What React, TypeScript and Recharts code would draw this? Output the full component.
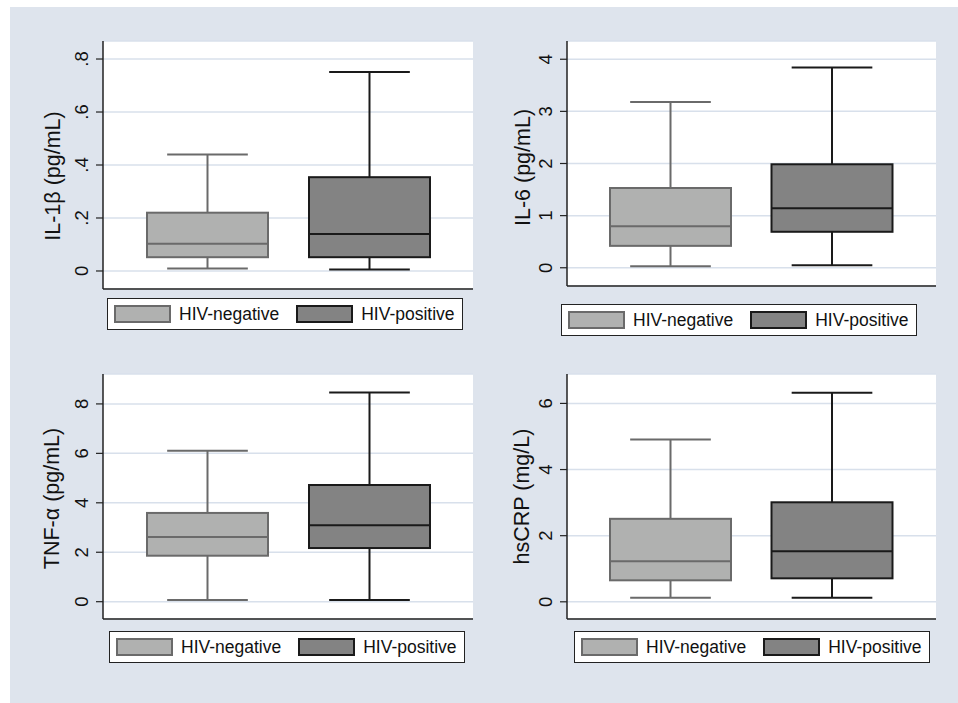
import React from "react";
import { ComposedChart, Bar, XAxis, YAxis, CartesianGrid, Legend } from "recharts";

// groups and box statistics: [lower whisker, q1, median, q3, upper whisker]
const groups = ["HIV-negative", "HIV-positive"];

const il1bNeg = [0.009, 0.052, 0.103, 0.22, 0.44];
const il1bPos = [0.006, 0.052, 0.14, 0.354, 0.751];
const il6Neg = [0.03, 0.42, 0.795, 1.53, 3.18];
const il6Pos = [0.05, 0.69, 1.14, 1.985, 3.84];
const tnfNeg = [0.07, 1.86, 2.62, 3.59, 6.11];
const tnfPos = [0.07, 2.17, 3.09, 4.72, 8.46];
const crpNeg = [0.12, 0.65, 1.23, 2.51, 4.91];
const crpPos = [0.12, 0.71, 1.53, 3.01, 6.32];

const il1bTicks = [0, 0.2, 0.4, 0.6, 0.8];
const il6Ticks = [0, 1, 2, 3, 4];
const tnfTicks = [0, 2, 4, 6, 8];
const crpTicks = [0, 2, 4, 6];

const FONT = '"Liberation Sans", Arial, Helvetica, sans-serif';
const FILLS = ["#b0b1b0", "#838383"];
const STROKES = ["#6a6a6a", "#1a1a1a"];

const fmtTick = (v: number) => {
  if (v === 0) return "0";
  if (v < 1) return String(v).replace(/^0/, "");
  return String(v);
};

const BoxShape = (props: any) => {
  const { x, y, width, height, payload } = props;
  const [lo, q1, med, q3, hi] = payload.stats;
  const k = height / (q3 - q1);
  const py = (v: number) => y + height - (v - q1) * k;
  const cx = x + width / 2;
  const cap = width / 3;
  const s = STROKES[payload.idx];
  return (
    <g>
      <line x1={cx} x2={cx} y1={py(hi)} y2={y} stroke={s} strokeWidth={2} />
      <line x1={cx} x2={cx} y1={y + height} y2={py(lo)} stroke={s} strokeWidth={2} />
      <line x1={cx - cap} x2={cx + cap} y1={py(hi)} y2={py(hi)} stroke={s} strokeWidth={2} />
      <line x1={cx - cap} x2={cx + cap} y1={py(lo)} y2={py(lo)} stroke={s} strokeWidth={2} />
      <rect x={x} y={y} width={width} height={height} fill={FILLS[payload.idx]} stroke={s} strokeWidth={2} />
      <line x1={x} x2={x + width} y1={py(med)} y2={py(med)} stroke={s} strokeWidth={2} />
    </g>
  );
};

const RotTick = (props: any) => {
  const { x, y, payload } = props;
  return (
    <text
      transform={`translate(${x - 1},${y}) rotate(-90)`}
      textAnchor="middle"
      fontSize={18.5}
      fontFamily={FONT}
      fill="#111"
    >
      {fmtTick(payload.value)}
    </text>
  );
};

const BoxLegend = () => (
  <div
    style={{
      width: 356,
      height: 32,
      boxSizing: "border-box",
      border: "1.5px solid #222",
      background: "#fff",
      display: "flex",
      alignItems: "center",
      paddingLeft: 6,
      fontFamily: FONT,
      fontSize: 17.5,
      color: "#111",
      whiteSpace: "nowrap",
    }}
  >
    {groups.map((g, i) => (
      <div key={g} style={{ display: "flex", alignItems: "center", marginRight: 17, flexShrink: 0 }}>
        <div
          style={{
            width: 57,
            height: 18,
            boxSizing: "border-box",
            background: FILLS[i],
            border: `2px solid ${STROKES[i]}`,
            marginRight: 8,
            flexShrink: 0,
          }}
        />
        <span>{g}</span>
      </div>
    ))}
  </div>
);

type PanelProps = {
  neg: number[];
  pos: number[];
  ticks: number[];
  domain: [number, number];
  label: string;
  left: number;
  top: number;
  width: number;
  height: number;
  margin: { top: number; right: number; bottom: number; left: number };
  legendPos: { left: number; top: number };
  labelX: number;
  labelShift: number;
};

const Panel = (p: PanelProps) => {
  const data = groups.map((g, i) => {
    const st = i === 0 ? p.neg : p.pos;
    return { group: g, idx: i, stats: st, box: [st[1], st[3]] };
  });
  return (
    <div style={{ position: "absolute", left: p.left, top: p.top }}>
      <ComposedChart width={p.width} height={p.height} data={data} margin={p.margin}>
        <CartesianGrid vertical={false} stroke="#d8e0eb" strokeWidth={1.5} fill="#fff" />
        <XAxis
          dataKey="group"
          type="category"
          height={1}
          tick={false}
          tickLine={false}
          padding={{ left: 23, right: 23 }}
          axisLine={{ stroke: "#222", strokeWidth: 1.5 }}
        />
        <YAxis
          type="number"
          width={60}
          domain={p.domain}
          ticks={p.ticks}
          allowDataOverflow
          interval={0}
          tickSize={7}
          tickMargin={7}
          tick={<RotTick />}
          tickLine={{ stroke: "#222", strokeWidth: 1.2 }}
          axisLine={{ stroke: "#222", strokeWidth: 1.5 }}
          label={{
            content: (lp: any) => {
              const vb = lp.viewBox;
              const cy = vb.y + vb.height / 2 + p.labelShift;
              return (
                <text
                  transform={`translate(${p.labelX},${cy}) rotate(-90)`}
                  textAnchor="middle"
                  dominantBaseline="central"
                  fontSize={21.5}
                  fontFamily={FONT}
                  fill="#111"
                >
                  {p.label}
                </text>
              );
            },
          }}
        />
        <Bar dataKey="box" barSize={121} shape={<BoxShape />} isAnimationActive={false} />
        <Legend
          layout="horizontal"
          verticalAlign="middle"
          content={<BoxLegend />}
          wrapperStyle={{ left: p.legendPos.left, top: p.legendPos.top, width: 356 }}
        />
      </ComposedChart>
    </div>
  );
};

export default function App() {
  return (
    <div
      style={{
        position: "absolute",
        left: 0,
        top: 0,
        width: 958,
        height: 703,
        background: "#fff",
        overflow: "hidden",
      }}
    >
      <div style={{ position: "absolute", left: 10, top: 7, right: 0, bottom: 0, background: "#dee4ed" }} />
      <Panel
        neg={il1bNeg}
        pos={il1bPos}
        ticks={il1bTicks}
        domain={[-0.068, 0.868]}
        label="IL-1β (pg/mL)"
        left={10}
        top={7}
        width={468}
        height={343}
        margin={{ top: 34, right: 5, bottom: 60, left: 33 }}
        legendPos={{ left: 97, top: 291 }}
        labelX={43}
        labelShift={11}
      />
      <Panel
        neg={il6Neg}
        pos={il6Pos}
        ticks={il6Ticks}
        domain={[-0.35, 4.35]}
        label="IL-6 (pg/mL)"
        left={478}
        top={7}
        width={480}
        height={343}
        margin={{ top: 34, right: 22, bottom: 63, left: 29 }}
        legendPos={{ left: 83, top: 297 }}
        labelX={45}
        labelShift={4}
      />
      <Panel
        neg={tnfNeg}
        pos={tnfPos}
        ticks={tnfTicks}
        domain={[-0.7, 9.21]}
        label="TNF-α (pg/mL)"
        left={10}
        top={350}
        width={468}
        height={353}
        margin={{ top: 24, right: 5, bottom: 83, left: 33 }}
        legendPos={{ left: 99, top: 281 }}
        labelX={42}
        labelShift={2}
      />
      <Panel
        neg={crpNeg}
        pos={crpPos}
        ticks={crpTicks}
        domain={[-0.52, 6.89]}
        label="hsCRP (mg/L)"
        left={478}
        top={350}
        width={480}
        height={353}
        margin={{ top: 24, right: 22, bottom: 83, left: 29 }}
        legendPos={{ left: 96, top: 281 }}
        labelX={44}
        labelShift={0}
      />
    </div>
  );
}
